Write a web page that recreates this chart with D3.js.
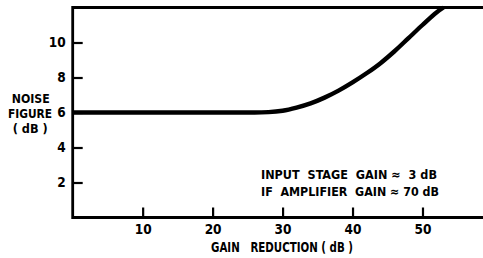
<!DOCTYPE html>
<html>
<head>
<meta charset="utf-8">
<script src="https://cdn.jsdelivr.net/npm/d3@7"></script>
<style>
  body { margin: 0; background: #fff; }
  text { font-family: "DejaVu Sans Condensed", "Liberation Sans Narrow", "DejaVu Sans", sans-serif; font-stretch: condensed; font-weight: bold; fill: #000; white-space: pre; }
</style>
</head>
<body>
<div class="chart"></div>
<script>
// DATA ------------------------------------
const gainReduction = [0, 10, 20, 26, 28, 30, 32, 34, 36, 38, 40, 42, 44, 46, 48, 50, 52, 53]
const noiseFigure   = [6, 6, 6, 6, 6.02, 6.1, 6.28, 6.52, 6.85, 7.25, 7.72, 8.24, 8.82, 9.5, 10.25, 11.0, 11.72, 12]
const xTicks = [10, 20, 30, 40, 50]
const yTicks = [2, 4, 6, 8, 10]
const yTitle = ['NOISE', 'FIGURE', '( dB )']
const xTitle = 'GAIN   REDUCTION ( dB )'
const notes = ['INPUT  STAGE  GAIN \u2248  3 dB', 'IF  AMPLIFIER  GAIN \u2248 70 dB']

const W = 483, H = 258
const margin = ({ top: 7.5, right: 0, bottom: 40.5, left: 72.7 })
const width = W - margin.left - margin.right
const height = H - margin.top - margin.bottom

// CHART INIT ------------------------------
const svg = d3.select('.chart')
    .append('svg')
    .attr('width', W)
    .attr('height', H)
    .append('g')
    .attr('transform', 'translate(' + margin.left + ',' + margin.top + ')')

const xScale = d3.scaleLinear().domain([0, 58.65]).range([0, width])
const yScale = d3.scaleLinear().domain([0, 12]).range([height, 0])

const xAxis = d3.axisBottom(xScale).tickValues(xTicks).tickSize(-10).tickPadding(4)
const yAxis = d3.axisLeft(yScale).tickValues(yTicks).tickSize(-10).tickPadding(7)

const gx = svg.append('g').attr('class', 'axis x-axis')
    .attr('transform', `translate(0, ${height})`)
    .call(xAxis)
const gy = svg.append('g').attr('class', 'axis y-axis').call(yAxis)

svg.selectAll('.axis .domain').remove()
svg.selectAll('.axis line').attr('stroke', '#000').attr('stroke-width', 2.2)
svg.selectAll('.axis text').style('font-size', '13.5px').attr('fill', '#000')
gx.selectAll('text').attr('dy', '0.95em')

// frame: left, bottom, top
svg.append('path')
    .attr('d', `M${width},0 H0 V${height} H${width}`)
    .attr('fill', 'none')
    .attr('stroke', '#000')
    .attr('stroke-width', 2.8)

// curve
const line = d3.line()
    .x((d, i) => xScale(gainReduction[i]))
    .y(d => yScale(d))
    .curve(d3.curveMonotoneX)

svg.append('path')
    .datum(noiseFigure)
    .attr('d', line)
    .attr('fill', 'none')
    .attr('stroke', '#000')
    .attr('stroke-width', 4.4)

// titles
const yTitleLen = [38, 44, 35]
svg.append('g').selectAll('text')
    .data(yTitle)
    .enter()
    .append('text')
    .attr('x', (d, i) => [-42, -42.7, -42.5][i])
    .attr('y', (d, i) => 95.5 + i * 15)
    .attr('text-anchor', 'middle')
    .attr('textLength', (d, i) => yTitleLen[i])
    .attr('lengthAdjust', 'spacingAndGlyphs')
    .style('font-size', '13px')
    .text(d => d)

svg.append('text')
    .attr('x', 211 - margin.left)
    .attr('y', height + 34)
    .attr('textLength', 142)
    .attr('lengthAdjust', 'spacingAndGlyphs')
    .style('font-size', '13.5px')
    .text(xTitle)

svg.append('g').selectAll('text')
    .data(notes)
    .enter()
    .append('text')
    .attr('x', 261 - margin.left)
    .attr('y', (d, i) => 171 + i * 17)
    .attr('textLength', (d, i) => [176, 178][i])
    .attr('lengthAdjust', 'spacingAndGlyphs')
    .style('font-size', '12.5px')
    .text(d => d)
</script>
</body>
</html>
